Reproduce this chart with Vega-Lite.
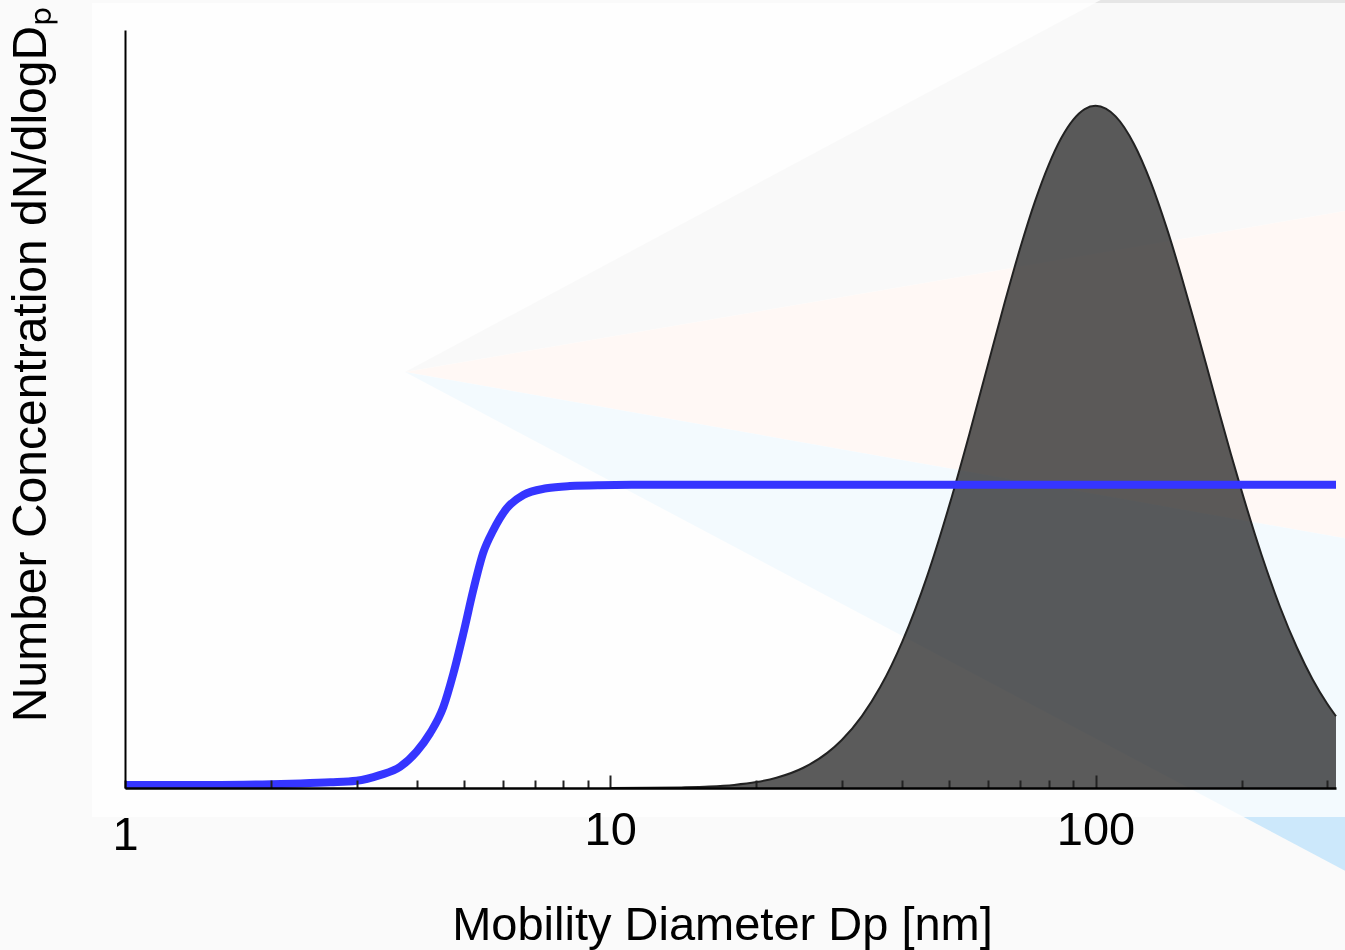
{
  "$schema": "https://vega.github.io/schema/vega-lite/v6.json",
  "width": 1211,
  "height": 758,
  "autosize": {"type": "none"},
  "padding": {"left": 125, "top": 30, "right": 9, "bottom": 162},
  "background": "#fafafa",
  "config": {"view": {"stroke": null}, "font": "Liberation Sans"},
  "datasets": {
    "bands": [
      {"band": "gray", "d": 3.776, "v": 0.5488, "v2": 0.5488},
      {"band": "gray", "d": 424, "v": 1.2507, "v2": 0.7736},
      {"band": "pink", "d": 3.776, "v": 0.5488, "v2": 0.5488},
      {"band": "pink", "d": 424, "v": 0.7736, "v2": 0.3166},
      {"band": "blue", "d": 3.776, "v": 0.5488, "v2": 0.5488},
      {"band": "blue", "d": 424, "v": 0.3166, "v2": -0.1478}
    ],
    "box": [{"d": 0.8553, "d2": 424, "v": -0.0383, "v2": 1.0356}],
    "psd": [
      {"d": 10, "v": 0}, {"d": 12, "v": 0.0002}, {"d": 14, "v": 0.0008}, {"d": 16, "v": 0.0019},
      {"d": 18, "v": 0.0041}, {"d": 20, "v": 0.0078}, {"d": 22, "v": 0.0135}, {"d": 25, "v": 0.0267},
      {"d": 28, "v": 0.0463}, {"d": 30, "v": 0.0633}, {"d": 33, "v": 0.0948}, {"d": 36, "v": 0.1331},
      {"d": 40, "v": 0.1935}, {"d": 45, "v": 0.2799}, {"d": 50, "v": 0.3735}, {"d": 55, "v": 0.4678},
      {"d": 60, "v": 0.5582}, {"d": 65, "v": 0.6407}, {"d": 70, "v": 0.713}, {"d": 75, "v": 0.7735},
      {"d": 80, "v": 0.8215}, {"d": 85, "v": 0.8575}, {"d": 90, "v": 0.8818}, {"d": 95, "v": 0.8957},
      {"d": 100, "v": 0.9}, {"d": 105, "v": 0.8963}, {"d": 110, "v": 0.886}, {"d": 120, "v": 0.8497},
      {"d": 130, "v": 0.799}, {"d": 140, "v": 0.7399}, {"d": 150, "v": 0.6772}, {"d": 160, "v": 0.6142},
      {"d": 170, "v": 0.553}, {"d": 180, "v": 0.4948}, {"d": 190, "v": 0.4411}, {"d": 200, "v": 0.392},
      {"d": 220, "v": 0.3071}, {"d": 240, "v": 0.2388}, {"d": 260, "v": 0.1854}, {"d": 280, "v": 0.1436},
      {"d": 300, "v": 0.1115}, {"d": 313, "v": 0.0947}
    ],
    "transfer": [
      {"d": 1, "v": 0.004}, {"d": 1.5, "v": 0.004}, {"d": 2, "v": 0.005}, {"d": 2.3, "v": 0.006},
      {"d": 2.65, "v": 0.0075}, {"d": 3.0, "v": 0.0096}, {"d": 3.35, "v": 0.017}, {"d": 3.69, "v": 0.028},
      {"d": 3.99, "v": 0.048}, {"d": 4.25, "v": 0.072}, {"d": 4.53, "v": 0.107}, {"d": 4.75, "v": 0.151},
      {"d": 4.98, "v": 0.204}, {"d": 5.22, "v": 0.261}, {"d": 5.47, "v": 0.31}, {"d": 5.74, "v": 0.34},
      {"d": 6.12, "v": 0.369}, {"d": 6.62, "v": 0.3865}, {"d": 7.39, "v": 0.3954}, {"d": 8.26, "v": 0.3984},
      {"d": 9.5, "v": 0.3995}, {"d": 12, "v": 0.4}, {"d": 313, "v": 0.4}
    ]
  },
  "encoding": {
    "x": {
      "field": "d",
      "type": "quantitative",
      "scale": {"type": "log", "domain": [1, 313], "nice": false},
      "axis": {
        "title": "Mobility Diameter Dp [nm]",
        "values": [1, 2, 3, 4, 5, 6, 7, 8, 9, 10, 20, 30, 40, 50, 60, 70, 80, 90, 100, 200, 300],
        "labelExpr": "datum.value == 1 || datum.value == 10 || datum.value == 100 ? format(datum.value, 'd') : ''",
        "labelFlush": false,
        "labelOverlap": false,
        "labelFontSize": 47,
        "labelColor": "#000000",
        "labelBaseline": "alphabetic",
        "labelPadding": 69,
        "domainColor": "#000000",
        "domainWidth": 2.5,
        "tickColor": "#222222",
        "tickWidth": 2,
        "tickSize": {"condition": {"test": "datum.value == 10 || datum.value == 100", "value": -13}, "value": -8},
        "grid": false,
        "titleFontSize": 47,
        "titleFontWeight": "normal",
        "titleColor": "#000000",
        "titleX": 597,
        "titleY": 151,
        "titleBaseline": "alphabetic",
        "titleAlign": "center",
        "zindex": 2
      }
    },
    "y": {
      "field": "v",
      "type": "quantitative",
      "scale": {"domain": [0, 1], "nice": false, "zero": false},
      "axis": {
        "title": "Number Concentration dN/dlogDₚ",
        "labels": false,
        "ticks": false,
        "grid": false,
        "domainColor": "#000000",
        "domainWidth": 2,
        "titleFontSize": 48,
        "titleFontWeight": "normal",
        "titleColor": "#000000",
        "titleAngle": 270,
        "titleX": -80,
        "titleY": 334,
        "titleAlign": "center",
        "titleBaseline": "alphabetic",
        "zindex": 2
      }
    }
  },
  "layer": [
    {
      "data": {"name": "bands"},
      "mark": {"type": "area", "clip": false, "interpolate": "linear"},
      "encoding": {
        "y2": {"field": "v2"},
        "color": {
          "field": "band",
          "type": "nominal",
          "scale": {"domain": ["gray", "pink", "blue"], "range": ["#e6e6e6", "#fce2d5", "#cce8fb"]},
          "legend": null
        }
      }
    },
    {
      "data": {"name": "box"},
      "mark": {"type": "rect", "clip": false, "fill": "#ffffff", "opacity": 0.77},
      "encoding": {"x2": {"field": "d2"}, "y2": {"field": "v2"}}
    },
    {
      "data": {"name": "psd"},
      "mark": {"type": "area", "fill": "#5b5b5b", "blend": "multiply", "interpolate": "monotone"},
      "encoding": {"y2": {"datum": 0}}
    },
    {
      "data": {"name": "psd"},
      "mark": {"type": "line", "color": "#222222", "strokeWidth": 2, "interpolate": "monotone"},
      "encoding": {}
    },
    {
      "data": {"name": "transfer"},
      "mark": {"type": "line", "color": "#3535ff", "strokeWidth": 8, "interpolate": "monotone"},
      "encoding": {}
    }
  ]
}
